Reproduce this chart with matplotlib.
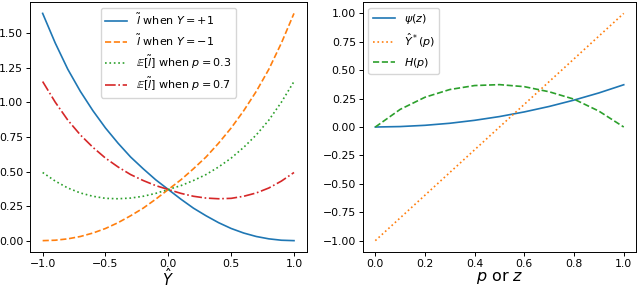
import matplotlib
matplotlib.use("Agg")
import matplotlib.pyplot as plt

# left panel: surrogate loss vs prediction
y_hat = [-1.0, -0.9, -0.8, -0.7, -0.6, -0.5, -0.4, -0.3, -0.2, -0.1, 0.0,
         0.1, 0.2, 0.3, 0.4, 0.5, 0.6, 0.7, 0.8, 0.9, 1.0]
loss_pos = [1.644, 1.43, 1.24, 1.08, 0.94, 0.815, 0.705, 0.605, 0.52, 0.44, 0.37,
            0.30, 0.235, 0.18, 0.13, 0.088, 0.055, 0.030, 0.013, 0.003, 0.0]
loss_neg = [0.0, 0.003, 0.013, 0.030, 0.055, 0.088, 0.13, 0.18, 0.235, 0.30, 0.37,
            0.44, 0.52, 0.605, 0.705, 0.815, 0.94, 1.08, 1.24, 1.43, 1.644]
exp_p03 = [0.493, 0.431, 0.381, 0.345, 0.321, 0.306, 0.303, 0.308, 0.321, 0.342, 0.37,
           0.398, 0.435, 0.478, 0.533, 0.597, 0.675, 0.765, 0.872, 1.002, 1.151]
exp_p07 = [1.151, 1.002, 0.872, 0.765, 0.675, 0.597, 0.533, 0.478, 0.435, 0.398, 0.37,
           0.342, 0.321, 0.308, 0.303, 0.306, 0.321, 0.345, 0.381, 0.431, 0.493]

# right panel
p_grid = [0.0, 0.1, 0.2, 0.3, 0.4, 0.5, 0.6, 0.7, 0.8, 0.9, 1.0]
psi_z = [0.0, 0.004, 0.015, 0.033, 0.059, 0.092, 0.133, 0.181, 0.237, 0.300, 0.372]
y_star = [-1.0, -0.8, -0.6, -0.4, -0.2, 0.0, 0.2, 0.4, 0.6, 0.8, 1.0]
h_p = [0.0, 0.155, 0.262, 0.33, 0.365, 0.373, 0.355, 0.31, 0.245, 0.14, 0.0]

fig = plt.figure(figsize=(6.4, 2.89), dpi=100)
ax1 = fig.add_axes([0.047, 0.128, 0.432, 0.865])
ax2 = fig.add_axes([0.567, 0.128, 0.427, 0.865])

lw = 1.2
ax1.plot(y_hat, loss_pos, "-", color="C0", lw=lw, label=r"$\tilde{l}$ when $Y=+1$")
ax1.plot(y_hat, loss_neg, "--", color="C1", lw=lw, label=r"$\tilde{l}$ when $Y=-1$")
ax1.plot(y_hat, exp_p03, ":", color="C2", lw=lw, label=r"$\mathbb{E}[\tilde{l}]$ when $p=0.3$")
ax1.plot(y_hat, exp_p07, "-.", color="C3", lw=lw, label=r"$\mathbb{E}[\tilde{l}]$ when $p=0.7$")
ax1.set_xlabel(r"$\hat{Y}$", fontsize=10.5, labelpad=-1)
ax1.set_xticks([-1.0, -0.5, 0.0, 0.5, 1.0])
ax1.set_yticks([0.0, 0.25, 0.5, 0.75, 1.0, 1.25, 1.5])
ax1.legend(loc="upper center", fontsize=8)

ax2.plot(p_grid, psi_z, "-", color="C0", lw=lw, label=r"$\psi(z)$")
ax2.plot(p_grid, y_star, ":", color="C1", lw=lw, label=r"$\hat{Y}^*(p)$")
ax2.plot(p_grid, h_p, "--", color="C2", lw=lw, label=r"$H(p)$")
ax2.set_xlabel(r"$p$ or $z$", fontsize=11.5, labelpad=0)
ax2.set_xticks([0.0, 0.2, 0.4, 0.6, 0.8, 1.0])
ax2.set_yticks([-1.0, -0.75, -0.5, -0.25, 0.0, 0.25, 0.5, 0.75, 1.0])
ax2.legend(loc="upper left", fontsize=8)

for ax in [ax1, ax2]:
    ax.tick_params(labelsize=7.8, length=2.8, width=0.7, pad=2.2)
    for s in ax.spines.values():
        s.set_linewidth(0.7)

plt.savefig("out.png", dpi=100)
